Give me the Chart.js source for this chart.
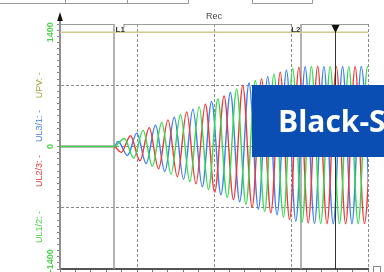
<!DOCTYPE html>
<html>
<head>
<meta charset="utf-8">
<script src="https://cdn.jsdelivr.net/npm/chart.js@4.4.1/dist/chart.umd.min.js"></script>
<style>
  html, body { margin: 0; padding: 0; background: #fff; }
  canvas { display: block; }
</style>
</head>
<body>
<canvas id="scope" width="384" height="272"></canvas>
<script>
// axis limits (time in ms, voltage in V)
var timeRange = [0, 320];
var voltRange = [-1500, 1500];
var yTickLabels = [1400, 0, -1400];

// cursors
var cursorL1 = 56.1;
var cursorL2 = 249.9;
var playhead = 285.7;

// UPV (flat trace near the top)
var upvTime = [0, 320];
var upvVolt = [1400, 1400];

// UL2/3 - red
var ul23Time = [0, 56.1, 63.6, 73.3, 83.0, 92.7, 102.4, 112.2, 121.9, 131.6, 141.3, 151.0, 160.7, 170.5, 180.2, 189.9, 199.6, 209.4, 219.1, 228.8, 238.5, 248.2, 257.9, 267.7, 277.4, 287.1, 296.8, 306.6, 316.3, 326.0];
var ul23Volt = [0, 0, -72, 132, -175, 229, -272, 326, -370, 423, -457, 520, -559, 618, -651, 744, -743, 828, -812, 910, -893, 970, -937, 982, -945, 978, -948, 980, -944, 980];

// UL3/1 - blue
var ul31Time = [0, 56.1, 60.4, 70.1, 79.8, 89.5, 99.2, 108.9, 118.7, 128.4, 138.1, 147.8, 157.5, 167.2, 177.0, 186.7, 196.4, 206.1, 215.8, 225.5, 235.3, 245.0, 254.7, 264.4, 274.2, 283.9, 293.6, 303.3, 313.0, 322.7];
var ul31Volt = [0, 0, 62, -110, 164, -208, 261, -305, 359, -402, 456, -493, 553, -591, 661, -677, 777, -769, 856, -837, 934, -913, 977, -942, 981, -946, 979, -945, 980, -946];

// UL1/2 - green
var ul12Time = [0, 56.1, 66.9, 76.6, 86.3, 96.0, 105.7, 115.4, 125.2, 134.9, 144.6, 154.3, 164.0, 173.7, 183.5, 193.2, 202.9, 212.6, 222.3, 232.1, 241.8, 251.5, 261.2, 270.9, 280.7, 290.4, 300.1, 309.8, 319.5, 329.2];
var ul12Volt = [0, 0, 98, -143, 197, -240, 294, -337, 391, -430, 488, -527, 585, -622, 703, -708, 805, -793, 884, -865, 955, -927, 979, -944, 981, -946, 978, -945, 980, -945];

// channel names shown along the left side, with the voltage they sit at
var channelNames = ['UPV: -', 'UL3/1: -', 'UL2/3: -', 'UL1/2: -'];
var channelColors = ['#a3a33c', '#4a80e8', '#e83a3a', '#3fd13f'];
var channelAt = [750, 250, -300, -985];

function pts(t, v) {
  return t.map(function (x, i) { return { x: x, y: v[i] }; });
}

var clear = 'rgba(0,0,0,0)';
var gridGrey = '#8a8a8a';

function rotText(ctx, txt, x, y, color, font) {
  ctx.save();
  ctx.translate(x, y);
  ctx.rotate(-Math.PI / 2);
  ctx.fillStyle = color;
  ctx.font = font;
  ctx.textAlign = 'center';
  ctx.textBaseline = 'middle';
  ctx.fillText(txt, 0, 0);
  ctx.restore();
}

var scopeDecor = {
  id: 'scopeDecor',
  beforeDatasetsDraw: function (chart) {
    var a = chart.chartArea, xs = chart.scales.x, ctx = chart.ctx;
    ctx.save();
    ctx.strokeStyle = '#9a9a9a';
    ctx.lineWidth = 1.5;
    [cursorL1, cursorL2].forEach(function (t) {
      var px = Math.round(xs.getPixelForValue(t));
      ctx.beginPath(); ctx.moveTo(px, a.top); ctx.lineTo(px, a.bottom); ctx.stroke();
    });
    ctx.restore();
  },
  afterDraw: function (chart) {
    var a = chart.chartArea, xs = chart.scales.x, ys = chart.scales.y, ctx = chart.ctx;
    var l1 = Math.round(xs.getPixelForValue(cursorL1));
    var l2 = Math.round(xs.getPixelForValue(cursorL2));
    var pp = Math.round(xs.getPixelForValue(playhead)) + 0.5;
    ctx.save();

    // playhead line + marker
    ctx.strokeStyle = '#333';
    ctx.lineWidth = 1;
    ctx.beginPath(); ctx.moveTo(pp, a.top); ctx.lineTo(pp, a.bottom); ctx.stroke();
    ctx.fillStyle = '#111';
    ctx.beginPath(); ctx.moveTo(pp - 4, a.top + 1); ctx.lineTo(pp + 4, a.top + 1); ctx.lineTo(pp, a.top + 9); ctx.closePath(); ctx.fill();

    // top frame with gaps for L1 / L2
    ctx.strokeStyle = '#9c9c9c';
    ctx.lineWidth = 1.2;
    var ty = a.top + 0.5;
    ctx.beginPath();
    ctx.moveTo(a.left, ty); ctx.lineTo(l1, ty);
    ctx.moveTo(l1 + 10, ty + 3); ctx.lineTo(l1 + 10, ty); ctx.lineTo(l2 - 10, ty);
    ctx.moveTo(l2, ty); ctx.lineTo(a.right, ty);
    ctx.stroke();
    ctx.fillStyle = '#333';
    ctx.font = 'bold 8px "Liberation Sans", Arial, sans-serif';
    ctx.textBaseline = 'alphabetic';
    ctx.textAlign = 'left';
    ctx.fillText('L1', l1 + 1.5, a.top + 8);
    ctx.textAlign = 'right';
    ctx.fillText('L2', l2 - 0.5, a.top + 8);

    // y axis arrow
    ctx.strokeStyle = '#8f8f8f';
    ctx.lineWidth = 2;
    ctx.beginPath(); ctx.moveTo(a.left, a.top); ctx.lineTo(a.left, a.top - 4); ctx.stroke();
    ctx.fillStyle = '#111';
    ctx.beginPath(); ctx.moveTo(a.left - 2.8, a.top - 3); ctx.lineTo(a.left + 2.8, a.top - 3); ctx.lineTo(a.left, a.top - 12); ctx.closePath(); ctx.fill();

    // title
    ctx.fillStyle = '#444';
    ctx.font = '9px "Liberation Sans", Arial, sans-serif';
    ctx.textAlign = 'center';
    ctx.fillText('Rec', (a.left + a.right) / 2, 19);

    // left labels
    yTickLabels.forEach(function (v) {
      rotText(ctx, String(v), a.left - 9.5, ys.getPixelForValue(v), '#45d445', 'bold 9px "Liberation Sans", Arial, sans-serif');
    });
    channelNames.forEach(function (n, i) {
      rotText(ctx, n, a.left - 20, ys.getPixelForValue(channelAt[i]), channelColors[i], '9px "Liberation Sans", Arial, sans-serif');
    });

    // bits of the toolbar above the chart
    ctx.strokeStyle = '#9a9a9a';
    ctx.lineWidth = 1;
    ctx.beginPath();
    ctx.moveTo(0, 3.5); ctx.lineTo(188.5, 3.5);
    [65.5, 127.5, 188.5].forEach(function (x) { ctx.moveTo(x, 0); ctx.lineTo(x, 3.5); });
    ctx.moveTo(252.5, 0); ctx.lineTo(252.5, 3.5); ctx.lineTo(312.5, 3.5); ctx.lineTo(312.5, 0);
    ctx.stroke();
    ctx.strokeStyle = '#888';
    ctx.strokeRect(373.5, 266.5, 7, 6);

    // banner
    ctx.fillStyle = '#0a4db3';
    ctx.fillRect(252, 85, 132, 72);
    ctx.fillStyle = '#fff';
    ctx.font = 'bold 30px "Open Sans", sans-serif';
    ctx.textAlign = 'left';
    ctx.textBaseline = 'alphabetic';
    ctx.fillText('Black-S', 278, 132);

    ctx.restore();
  }
};

var lineStyle = { borderWidth: 1.4, pointRadius: 0, cubicInterpolationMode: 'monotone', fill: false };

new Chart(document.getElementById('scope').getContext('2d'), {
  type: 'line',
  data: {
    datasets: [
      Object.assign({ label: 'UL1/2', data: pts(ul12Time, ul12Volt), borderColor: '#36d84e' }, lineStyle),
      Object.assign({ label: 'UL2/3', data: pts(ul23Time, ul23Volt), borderColor: '#f03a3a' }, lineStyle),
      Object.assign({ label: 'UL3/1', data: pts(ul31Time, ul31Volt), borderColor: '#3b7ff2' }, lineStyle),
      Object.assign({ label: 'UPV', data: pts(upvTime, upvVolt), borderColor: '#cfca8e' }, lineStyle, { borderWidth: 1.5 })
    ]
  },
  options: {
    responsive: false,
    animation: false,
    layout: { padding: { left: 57, right: 16, top: 24, bottom: 0 } },
    plugins: { legend: { display: false }, tooltip: { enabled: false } },
    scales: {
      x: {
        type: 'linear',
        min: timeRange[0],
        max: timeRange[1],
        ticks: { display: false, stepSize: 16 },
        grid: {
          color: function (c) { return (c.tick && c.tick.value % 80 === 0 && c.tick.value > 0) ? gridGrey : clear; },
          tickLength: 3,
          tickColor: '#777'
        },
        border: { color: '#555', width: 2, dash: [3, 2] }
      },
      y: {
        min: voltRange[0],
        max: voltRange[1],
        ticks: { display: false, stepSize: 75 },
        grid: {
          color: function (c) { return (c.tick && c.tick.value % 750 === 0 && Math.abs(c.tick.value) < 1500) ? gridGrey : clear; },
          tickLength: 3,
          tickColor: '#8a8a8a'
        },
        border: { color: '#8f8f8f', width: 2, dash: [3, 2] }
      }
    }
  },
  plugins: [scopeDecor]
});
</script>
</body>
</html>
